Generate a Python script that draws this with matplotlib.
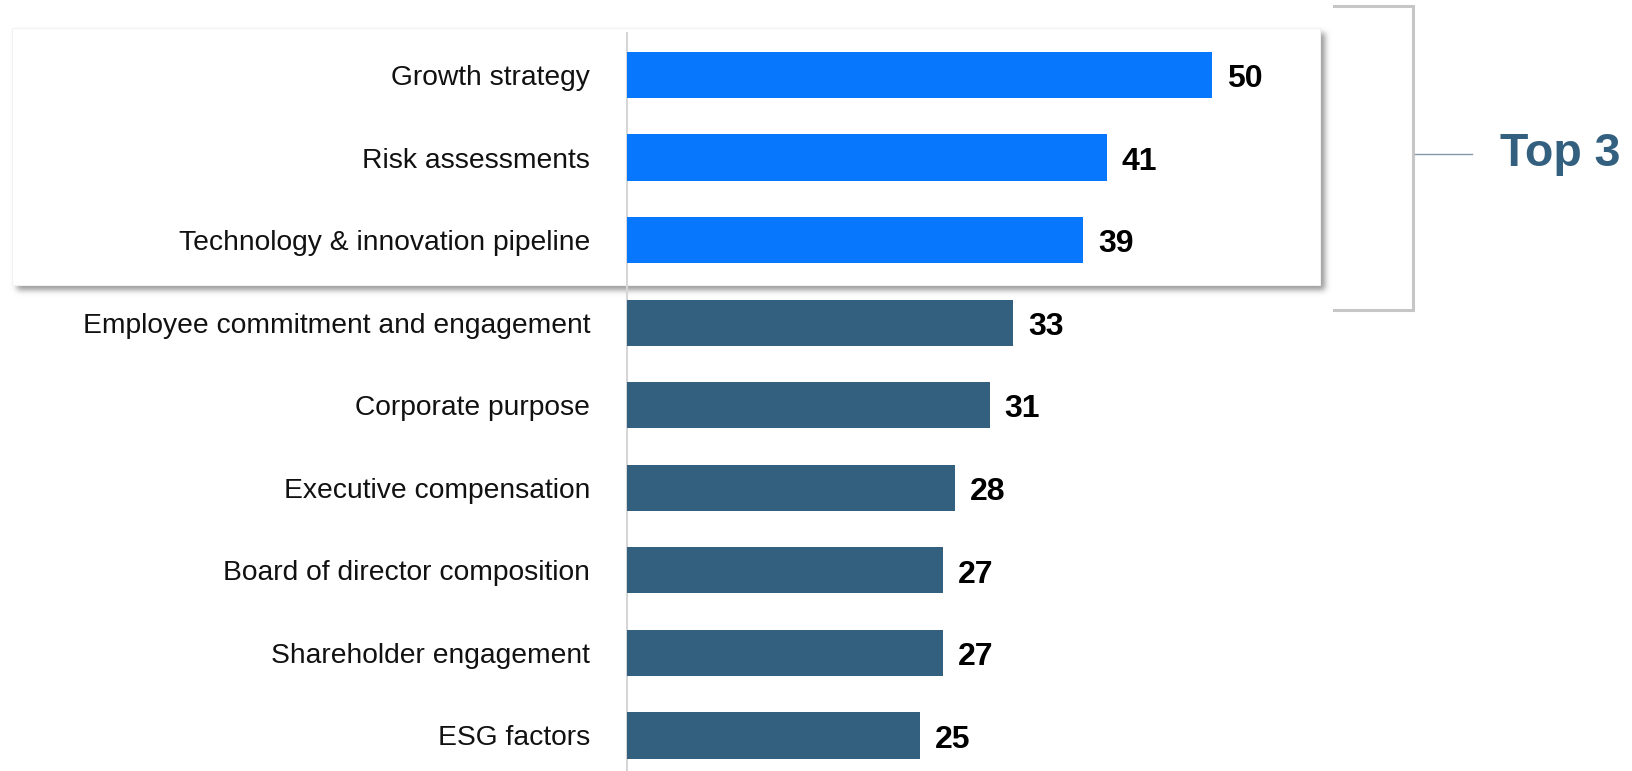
import numpy as np
import matplotlib
matplotlib.use("Agg")
import matplotlib.pyplot as plt
from matplotlib.patches import Rectangle

plt.rcParams['font.family'] = ['Liberation Sans', 'DejaVu Sans']

categories = [
    "Growth strategy",
    "Risk assessments",
    "Technology & innovation pipeline",
    "Employee commitment and engagement",
    "Corporate purpose",
    "Executive compensation",
    "Board of director composition",
    "Shareholder engagement",
    "ESG factors",
]
values = [50, 41, 39, 33, 31, 28, 27, 27, 25]
top_n = 3
highlight_label = "Top 3"

W, H = 1632, 771
DPI = 100
BLUE = "#0777FE"
NAVY = "#34607F"

fig = plt.figure(figsize=(W / DPI, H / DPI), dpi=DPI)
fig.patch.set_facecolor("white")

# Background layer in pixel coordinates (box, shadow, bracket)
bg = fig.add_axes([0, 0, 1, 1], zorder=0)
bg.set_xlim(0, W)
bg.set_ylim(H, 0)
bg.axis("off")

# soft drop shadow under the highlight box
bx0, by0, bx1, by1 = 12, 28, 1320, 285
off = 5
mask = np.zeros((H, W))
mask[by0 + off:by1 + off, bx0 + off:bx1 + off] = 1.0
sigma = 3.0
r = np.arange(-10, 11)
k = np.exp(-r ** 2 / (2 * sigma ** 2))
k /= k.sum()
mask = np.apply_along_axis(lambda v: np.convolve(v, k, mode="same"), 0, mask)
mask = np.apply_along_axis(lambda v: np.convolve(v, k, mode="same"), 1, mask)
rgba = np.zeros((H, W, 4))
rgba[..., :3] = 0.45
rgba[..., 3] = mask * 0.75
bg.imshow(rgba, extent=(0, W, H, 0), interpolation="bilinear", zorder=1)
bg.add_patch(Rectangle((bx0, by0), bx1 - bx0, by1 - by0, facecolor="white",
                       edgecolor="#f2f2f2", linewidth=0.8, zorder=2))

# bracket grouping the top items
bc = "#c6c6c6"
bg.plot([1334, 1413, 1413, 1334], [6, 6, 310, 310], color=bc, lw=2.2,
        solid_joinstyle="miter", zorder=3)
bg.plot([1415, 1472], [154, 154], color="#8598aa", lw=1.0, zorder=3)
bg.text(1500, 154, highlight_label, color=NAVY, fontsize=33.5, fontweight="bold",
        ha="left", va="center", zorder=3)

# Main bar chart
px_per_unit = 11.7
ax_left = 627
ax_w = W - ax_left
row = 82.56
y_top, y_bot = 33, H
ax = fig.add_axes([ax_left / W, 0, ax_w / W, (y_bot - y_top) / H], zorder=2)
ax.patch.set_alpha(0)
ax.set_xlim(0, ax_w / px_per_unit)
ax.set_ylim(8 + (H - 735.5) / row, -(75 - y_top) / row)

ypos = np.arange(len(categories))
colors = [BLUE if i < top_n else NAVY for i in range(len(categories))]
ax.barh(ypos, values, height=0.56, color=colors, zorder=3)
for y, v in zip(ypos, values):
    ax.text(v + 15 / px_per_unit, y + 0.05, f"{v}", va="center", ha="left",
            fontsize=23, fontweight="bold", color="black")

ax.set_yticks(ypos)
ax.set_yticklabels(categories, fontsize=20.3, color="#111111")
ax.tick_params(axis="y", length=0, pad=26.5)
ax.set_xticks([])
for s in ["top", "right", "bottom"]:
    ax.spines[s].set_visible(False)
ax.spines["left"].set_color("#d6d6d6")
ax.spines["left"].set_linewidth(1.5)

fig.savefig("out.png", dpi=DPI, facecolor="white")
